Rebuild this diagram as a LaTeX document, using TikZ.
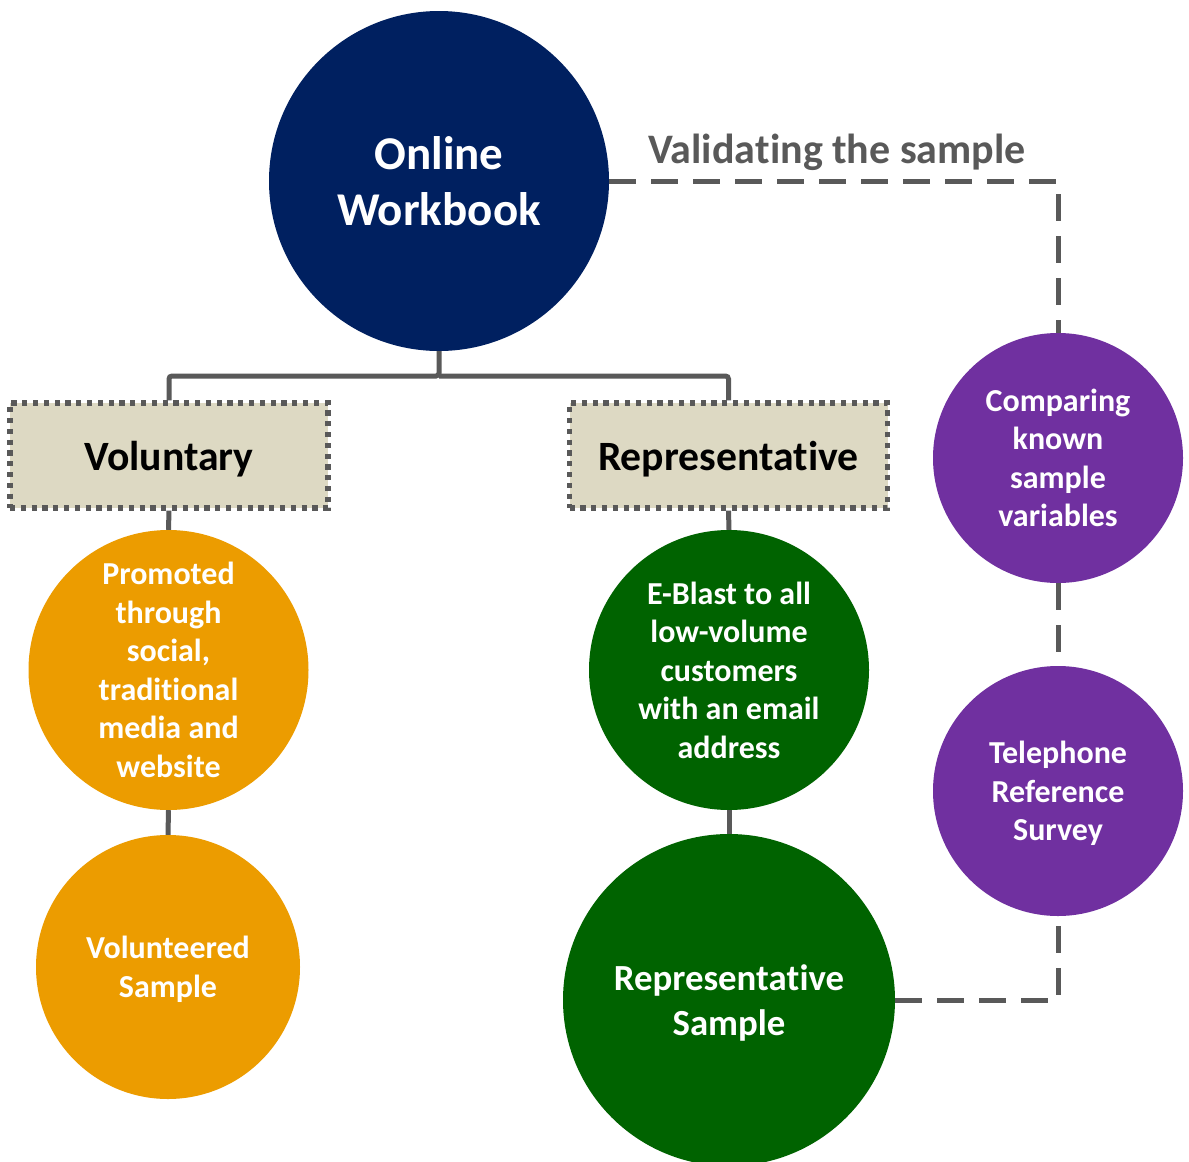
\documentclass[tikz,border=0pt]{standalone}
\usepackage{fontspec}
\setmainfont{Carlito}[Ligatures={NoCommon,NoContextual,NoRequired}]
\definecolor{navy}{HTML}{002060}
\definecolor{purp}{HTML}{7030A0}
\definecolor{dgreen}{HTML}{006300}
\definecolor{orng}{HTML}{EC9C00}
\definecolor{beige}{HTML}{DDD9C3}
\definecolor{lgray}{HTML}{595959}
\tikzset{
  circ/.style={circle, inner sep=0pt, align=center, text=white,
    font=\bfseries\fontsize{32}{38.5}\selectfont},
  catbox/.style={rectangle, fill=beige, draw=lgray, line width=5.2pt,
    dash pattern=on 5.2pt off 5.6pt, minimum width=318pt, minimum height=105pt,
    font=\bfseries\fontsize{41.7}{50}\selectfont, text=black, text depth=0pt},
  conn/.style={draw=lgray, line width=5pt, rounded corners=3pt},
  dashconn/.style={draw=lgray, line width=5pt, dash pattern=on 27pt off 15pt}
}
\begin{document}
\begin{tikzpicture}[x=1pt,y=-1pt]
\useasboundingbox (0,0) rectangle (1189,1162);
\fill[white] (0,0) rectangle (1189,1162);
\begin{scope}
\clip (0,0) rectangle (1189,1162);
% nodes
\node[circ, fill=navy, minimum size=340pt, text depth=-6pt, font=\bfseries\fontsize{47}{56}\selectfont] (ow) at (439,181) {Online\\Workbook};
\coordinate (j) at (439,376);
\node[catbox] (vol) at (169,455.5) {Voluntary};
\node[catbox] (rep) at (728.5,455.5) {Representa\kern0pt tive};
\node[circ, fill=orng, minimum size=280pt, text depth=-5pt] (prom) at (168.5,670) {Promoted\\through\\social,\\traditional\\media and\\website};
\node[circ, fill=orng, minimum size=264pt, text depth=-6pt] (volsam) at (168,967) {Volunteered\\Sample};
\node[circ, fill=dgreen, minimum size=280pt, text depth=-2pt] (eb) at (729,670) {E-Blast to all\\low-volume\\customers\\with an email\\address};
\node[circ, fill=dgreen, minimum size=332pt, text depth=-9pt, font=\bfseries\fontsize{36.8}{45}\selectfont] (rs) at (729,1000) {Representa\kern0pt tive\\Sample};
\node[circ, fill=purp, minimum size=250pt, text depth=-5pt] (cmp) at (1058,458) {Comparing\\known\\sample\\variables};
\node[circ, fill=purp, minimum size=250pt, text depth=-4pt] (tel) at (1058,791) {Telephone\\Reference\\Survey};
% tree connectors
\draw[conn] (ow.south) -- (j) -| (vol.north);
\draw[conn] (j) -| (rep.north);
\draw[conn] (vol.south) -- (prom.north);
\draw[conn] (prom.south) -- (volsam.north);
\draw[conn] (rep.south) -- (eb.north);
\draw[conn] (eb.south) -- (rs.north);
% redraw boxes on top of connector ends
\node[catbox] at (169,455.5) {Voluntary};
\node[catbox] at (728.5,455.5) {Representa\kern0pt tive};
% dashed connectors
\draw[dashconn] (ow.east) -| (cmp.north);
\draw[dashconn] (cmp.south) -- (tel.north);
\draw[dashconn] (rs.east) -| (tel.south);
\node[anchor=base, text=lgray, font=\bfseries\fontsize{42}{50}\selectfont] (lab) at (837,163) {Valida\kern0pt ting the sample};
\end{scope}
\end{tikzpicture}
\end{document}
